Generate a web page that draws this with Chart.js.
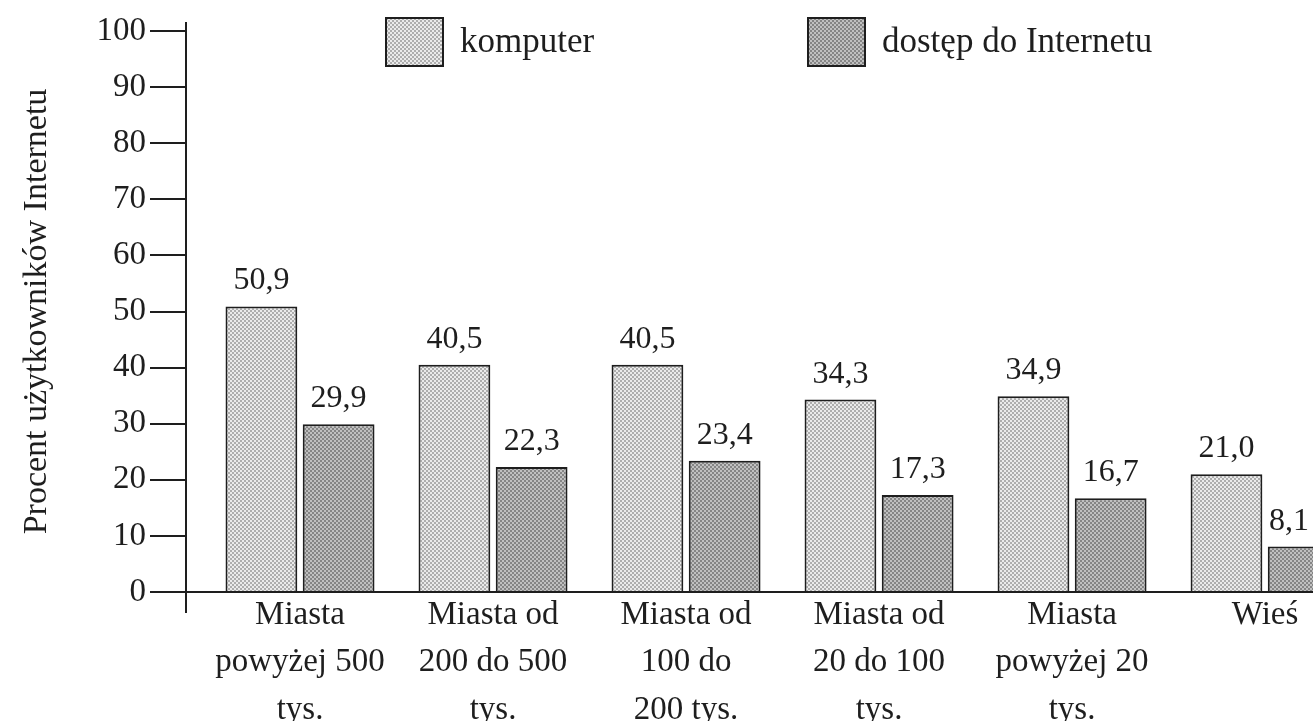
<!DOCTYPE html>
<html><head><meta charset="utf-8">
<script src="https://cdn.jsdelivr.net/npm/chart.js@4.4.1/dist/chart.umd.min.js"></script>
<style>html,body{margin:0;padding:0;background:#fff;overflow:hidden}canvas{display:block}</style>
</head><body>
<canvas id="c" width="1313" height="721"></canvas>
<script>
const categories = [["Miasta","powyżej 500","tys."],["Miasta od","200 do 500","tys."],["Miasta od","100 do","200 tys."],["Miasta od","20 do 100","tys."],["Miasta","powyżej 20","tys."],["Wieś"]];
const seriesNames = ["komputer","dostęp do Internetu"];
const komputer = [50.9,40.5,40.5,34.3,34.9,21.0];
const internet = [29.9,22.3,23.4,17.3,16.7,8.1];
const yTicks = [0,10,20,30,40,50,60,70,80,90,100];
const yTitle = "Procent użytkowników Internetu";

const FONT = "'Liberation Serif','Times New Roman',serif";
const INK = '#1e1e1e';
const canvas = document.getElementById('c');
const ctx = canvas.getContext('2d');
function makePattern(base, dot){
  const p = document.createElement('canvas'); p.width = 4; p.height = 4;
  const g = p.getContext('2d');
  g.fillStyle = base; g.fillRect(0,0,4,4);
  g.fillStyle = dot; g.fillRect(0,0,2,2); g.fillRect(2,2,2,2);
  return ctx.createPattern(p,'repeat');
}
const lightPat = makePattern('#eaeaea','#adadad');
const darkPat = makePattern('#c0c0c0','#858585');

const valueLabels = {
  id:'valueLabels',
  afterDatasetsDraw(chart){
    const c = chart.ctx; c.save();
    c.font = '32px ' + FONT; c.fillStyle = INK; c.textAlign = 'center'; c.textBaseline = 'alphabetic';
    chart.data.datasets.forEach((ds,di)=>{
      chart.getDatasetMeta(di).data.forEach((bar,i)=>{
        const txt = ds.data[i].toFixed(1).replace('.',',');
        const w = c.measureText(txt).width;
        const x = Math.min(bar.x, chart.width - w/2 - 4);
        c.fillText(txt, x, bar.y - 17);
      });
    });
    c.restore();
  }
};
const customLegend = {
  id:'customLegend',
  afterDraw(chart){
    const c = chart.ctx; c.save();
    const xs = [386, 808];
    chart.data.datasets.forEach((ds,i)=>{
      const x = xs[i], y = 18;
      c.fillStyle = ds.backgroundColor; c.fillRect(x, y, 57, 48);
      c.strokeStyle = INK; c.lineWidth = 2; c.strokeRect(x, y, 57, 48);
      c.font = '35px ' + FONT; c.fillStyle = INK; c.textAlign = 'left'; c.textBaseline = 'alphabetic';
      c.fillText(ds.label, x + 74, 52);
    });
    c.restore();
  }
};
const axisExt = {
  id:'axisExt',
  afterDraw(chart){
    const a = chart.chartArea, c = chart.ctx; c.save();
    c.strokeStyle = INK; c.lineWidth = 2;
    c.beginPath(); c.moveTo(a.left, a.top - 9); c.lineTo(a.left, a.bottom + 21); c.stroke();
    c.restore();
  }
};

new Chart(ctx, {
  type:'bar',
  data:{
    labels: categories,
    datasets:[
      {label: seriesNames[0], data: komputer, backgroundColor: lightPat, borderColor: INK, borderWidth: 2, borderSkipped:'bottom'},
      {label: seriesNames[1], data: internet, backgroundColor: darkPat, borderColor: INK, borderWidth: 2, borderSkipped:'bottom'}
    ]
  },
  options:{
    responsive:false, animation:false,
    layout:{padding:{top:31,left:0,right:0,bottom:0}},
    datasets:{bar:{categoryPercentage:0.8, barPercentage:0.93}},
    plugins:{legend:{display:false}, tooltip:{enabled:false}},
    scales:{
      x:{
        grid:{display:false},
        border:{display:true, color:INK, width:2},
        ticks:{font:{family:FONT, size:33, lineHeight:1.45}, color:INK, maxRotation:0, minRotation:0, autoSkip:false, padding:-9},
        afterFit(s){ s.height = 129; },
        afterBuildTicks(s){ s._startValue = -0.5907; s._valueRange = 5.839; }
      },
      y:{
        min:0, max:100,
        afterBuildTicks(s){ s.ticks = yTicks.map(v=>({value:v})); },
        grid:{drawOnChartArea:false, drawTicks:true, tickLength:36, color:INK, lineWidth:2},
        border:{color:INK, width:2},
        ticks:{font:{family:FONT, size:33}, color:INK, padding:4},
        title:{display:true, text:yTitle, font:{family:FONT, size:34}, color:INK, padding:{top:17,bottom:0}},
        afterFit(s){ s.width = 186; }
      }
    }
  },
  plugins:[valueLabels, customLegend, axisExt]
});
</script>
</body></html>
